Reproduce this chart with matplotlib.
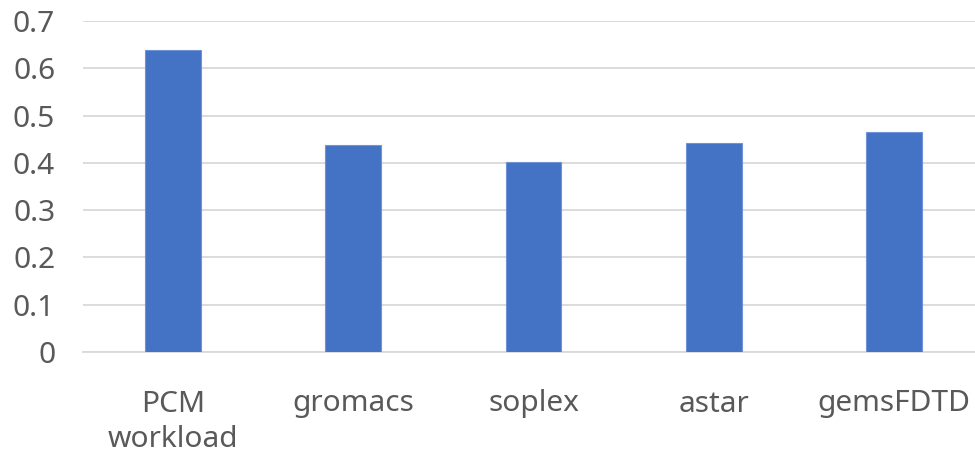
import matplotlib.pyplot as plt

plt.rcParams['font.family'] = ['Noto Sans', 'DejaVu Sans']

# benchmark results
benchmarks = ["PCM\nworkload", "gromacs", "soplex", "astar", "gemsFDTD"]
values = [0.638, 0.437, 0.402, 0.443, 0.465]
yticks = [0, 0.1, 0.2, 0.3, 0.4, 0.5, 0.6, 0.7]

fig = plt.figure(figsize=(9.75, 4.55), dpi=100)
ax = fig.add_axes([83 / 975, 103 / 455, 901 / 975, 331 / 455])

x = range(len(benchmarks))
ax.bar(x, values, width=0.31, color="#4472C4", edgecolor="#6f93d6",
       linewidth=0.8, zorder=3)

ax.set_xlim(-0.5, len(benchmarks) - 0.5)
ax.set_ylim(0, 0.7)
ax.set_yticks(yticks)
ax.set_yticklabels(["0" if v == 0 else f"{v:.1f}" for v in yticks])
ax.set_xticks(list(x))
ax.set_xticklabels(benchmarks, linespacing=1.3)

# light gray horizontal grid, no frame
ax.grid(axis="y", color="#d9d9d9", linewidth=1.3, zorder=0)
for s in ["top", "right", "left"]:
    ax.spines[s].set_visible(False)
ax.spines["bottom"].set_color("#d9d9d9")
ax.spines["bottom"].set_linewidth(1.3)
ax.tick_params(axis="both", length=0, labelsize=21.5, colors="#595959")
ax.tick_params(axis="y", pad=20)
ax.tick_params(axis="x", pad=27)

fig.savefig("out.png", dpi=100)
